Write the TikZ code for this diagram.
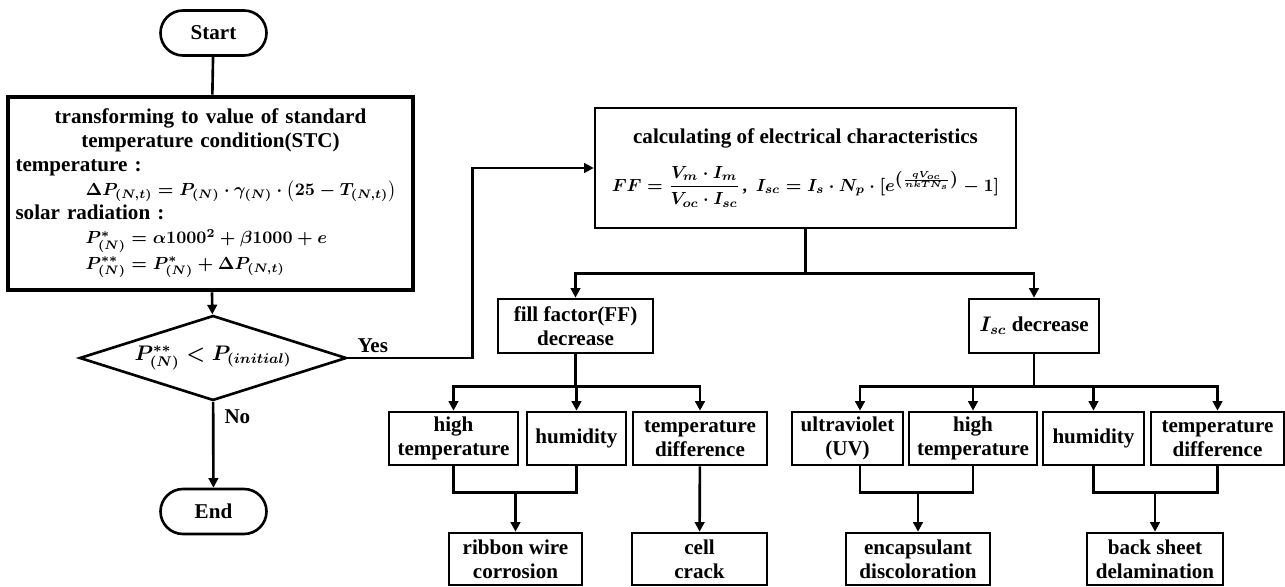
\documentclass[tikz,border=0pt]{standalone}
\usepackage{amsmath}
\usepackage{fontspec}
\setmainfont{Liberation Serif}
\usetikzlibrary{shapes.geometric,arrows.meta}
\tikzstyle{every node}=[font=\fontsize{12}{13.6}\selectfont\bfseries\boldmath,
	                        inner sep=0pt]
\tikzstyle{box}=[draw, line width=1.5pt, align=center]
\tikzstyle{term}=[draw, line width=1.5pt, rounded corners=0.45cm,
	                  minimum width=2.12cm, minimum height=0.9cm]
\tikzstyle{ln}=[line width=1.5pt]
\tikzstyle{arr}=[line width=1.5pt, -{Triangle[length=5.5pt,width=5.5pt]}]
\newcommand{\eqsize}{\fontsize{10}{13.6}\selectfont}

\begin{document}
\begin{tikzpicture}[x=0.02cm, y=-0.02cm]
\useasboundingbox (0,0) rectangle (1285,587);
% left column
\node[term] (start) at (213.5,33) {Start};
\node[box, line width=2.6pt, minimum width=8.1cm, minimum height=3.86cm,
      text width=7.8cm, align=left] (stc) at (210.5,193.5)
{{\centering transforming to value of standard\\ temperature condition(STC)\par}
temperature :\\
\hspace*{1.4cm}\mbox{\eqsize$\Delta P_{(N,t)} = P_{(N)}\cdot\gamma_{(N)}\cdot\bigl(25-T_{(N,t)}\bigr)$}\\
solar radiation :\\
\hspace*{1.4cm}\mbox{\eqsize$P^{*}_{(N)} = \alpha 1000^{2}+\beta 1000+e$}\\[1pt]
\hspace*{1.4cm}\mbox{\eqsize$P^{**}_{(N)} = P^{*}_{(N)}+\Delta P_{(N,t)}$}};
\node[draw, diamond, line width=1.5pt, aspect=3.1,
      minimum width=5.34cm, minimum height=1.7cm] (chk) at (213,358)
{$P^{**}_{(N)} < P_{(initial)}$};
\node[term] (end) at (213.5,511.5) {End};
% right part
\node[box, minimum width=8.42cm, minimum height=2.4cm] (calc) at (805.5,168)
{calculating of electrical characteristics\\[9pt]
{\fontsize{10}{12}\selectfont
$FF=\dfrac{V_m\cdot I_m}{V_{oc}\cdot I_{sc}}$\,,\ \ 
$I_{sc}=I_s\cdot N_p\cdot[e^{\left(\frac{qV_{oc}}{nkTN_s}\right)}-1]$}};
\node[box, minimum width=3.1cm, minimum height=1.08cm] (ff) at (575.5,326)
{fill factor(FF)\\decrease};
\node[box, minimum width=2.6cm, minimum height=1.08cm] (isc) at (1034,326)
{$I_{sc}$ decrease};
\foreach \n/\x/\w/\t in {ht1/453.5/2.58/{high\\temperature}, hum1/576.5/1.98/humidity,
	td1/700/2.68/{temperature\\difference}, uv/847.5/2.22/{ultraviolet\\(UV)},
	ht2/973/2.56/{high\\temperature}, hum2/1093.5/2.02/humidity,
	td2/1217.5/2.66/{temperature\\difference}}
	\node[box, minimum width=\w cm, minimum height=1.06cm] (\n) at (\x,438.5) {\t};
\foreach \n/\x/\w/\t in {rib/515.5/2.66/{ribbon wire\\corrosion}, crack/699.5/2.7/{cell\\crack},
	enc/918/2.88/{encapsulant\\discoloration}, back/1155/2.72/{back sheet\\delamination}}
	\node[box, minimum width=\w cm, minimum height=1.04cm] (\n) at (\x,559) {\t};

\draw[ln] (start) -- (stc);
\draw[arr] (stc) -- (chk);
\draw[arr] (chk) -- node[pos=0.17, anchor=west, xshift=0.2cm]{No} (end);
\draw[arr] (chk.east) -- node[pos=0.2, above, yshift=2pt]{Yes} ++(125,0) |- (calc.west);
\draw[ln] (calc.south) -- ++(0,44) coordinate (split);
\draw[arr] (split) -| (ff.north);
\draw[arr] (split) -| (isc.north);
\draw[ln] (ff.south) -- ++(0,32) coordinate (ffsplit);
\foreach \n in {ht1,hum1,td1}
	\draw[arr] (ffsplit) -| (\n.north);
\draw[ln] (isc.south) -- ++(0,32) coordinate (iscsplit);
\draw[arr] (iscsplit) -| ([xshift=0.25cm]uv.north);
\foreach \n in {ht2,hum2,td2}
	\draw[arr] (iscsplit) -| (\n.north);
% merging causes
\draw[ln] (ht1.south) -- ++(0,26) coordinate (jrib) -| (hum1.south);
\draw[arr] (rib.north |- jrib) -- (rib);
\draw[arr] (td1) -- (crack);
\draw[ln] ([xshift=0.25cm]uv.south) -- ++(0,26) coordinate (jenc) -| (ht2.south);
\draw[arr] (enc.north |- jenc) -- (enc);
\draw[ln] (hum2.south) -- ++(0,26) coordinate (jback) -| (td2.south);
\draw[arr] (back.north |- jback) -- (back);
\end{tikzpicture}
\end{document}
